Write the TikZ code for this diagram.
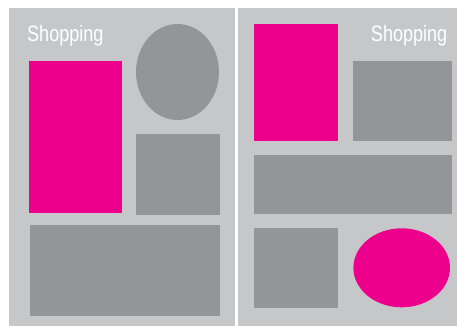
\documentclass[tikz,border=0pt]{standalone}
\usepackage{fontspec}
\usepackage{graphicx}
\setmainfont{Liberation Sans}
\usetikzlibrary{positioning}
\definecolor{pagegray}{HTML}{C6C7C9}
\definecolor{boxgray}{HTML}{939598}
\definecolor{hotpink}{HTML}{EC008C}

\begin{document}
\begin{tikzpicture}[
        x=1pt, y=-1pt,
        page/.style={fill=pagegray},
        block/.style={fill=boxgray},
        accent/.style={fill=hotpink},
        heading/.style={text=white, inner sep=0pt, font=\fontsize{22.3}{24}\selectfont}
    ]
        \useasboundingbox[fill=white] (0,0) rectangle (457,326);
        % left page
        \fill[page] (9,8) rectangle (235,326);
        \node[heading, anchor=base west] (title1) at (27,41.3) {\scalebox{0.81}[1]{Shopping}};
        \fill[accent] (29,61) rectangle (122,213);
        \fill[block] (177.5,72) ellipse [x radius=41.5pt, y radius=48pt];
        \fill[block] (136,134) rectangle (220,214.5);
        \fill[block] (30,225) rectangle (220,315.5);
        % right page
        \fill[page] (238,8) rectangle (457,326);
        \node[heading, anchor=base east] (title2) at (447.5,41.3) {\scalebox{0.81}[1]{Shopping}};
        \fill[accent] (254,24) rectangle (338,141);
        \fill[block] (353,61) rectangle (452,141);
        \fill[block] (254,155) rectangle (452,214);
        \fill[block] (254,228) rectangle (338,307.7);
        \fill[accent] (401.7,267.8) ellipse [x radius=48.3pt, y radius=39.5pt];
    \end{tikzpicture}
\end{document}
